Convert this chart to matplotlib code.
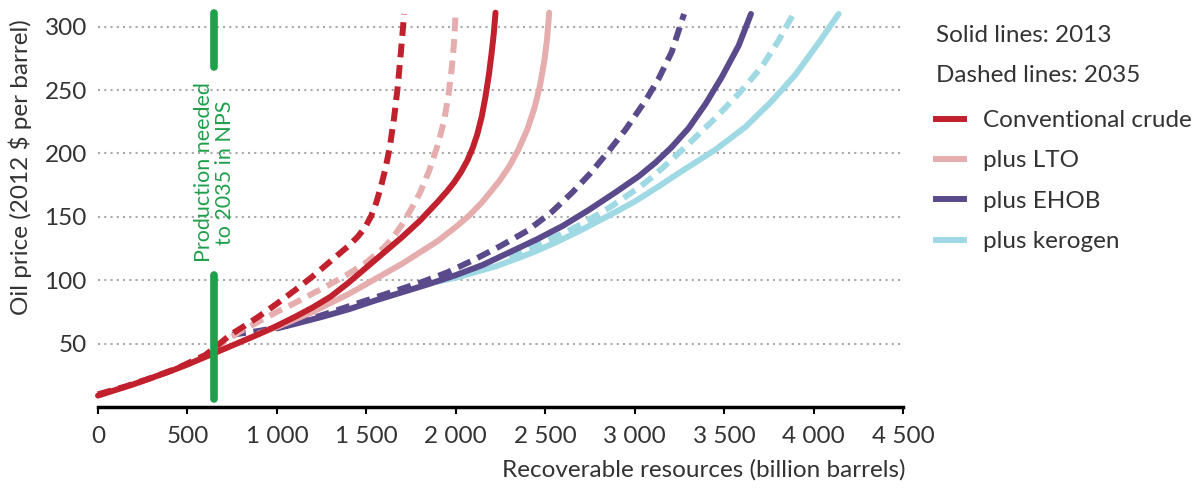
import matplotlib
matplotlib.use("Agg")
import matplotlib.pyplot as plt
from matplotlib.lines import Line2D

plt.rcParams['font.family'] = ['Lato', 'DejaVu Sans']

# Dostupne zdroje (mld. barelu) a cena ropy (2012 $ za barel)
conv_2013_x = [0, 100, 200, 300, 400, 500, 600, 700, 800, 900, 1000, 1100, 1200, 1300, 1400,
               1500, 1600, 1700, 1800, 1900, 1950, 1990, 2030, 2065, 2095, 2120, 2145, 2165,
               2185, 2200, 2212, 2222]
conv_2013_y = [9, 13.5, 18, 23, 28, 33.5, 39.5, 45.5, 51.5, 57.5, 64, 71, 78.5, 87, 98,
               110, 122, 134, 147, 162, 170, 177, 185.5, 194.5, 204.5, 215, 229, 244,
               262, 279, 294, 311]
conv_2035_x = [0, 150, 300, 450, 600, 680, 740, 820, 900, 1000, 1100, 1200, 1300, 1400, 1450,
               1490, 1525, 1555, 1580, 1605, 1630, 1655, 1675, 1692, 1703, 1711]
conv_2035_y = [10, 16, 23, 31, 41, 50, 57, 64, 71.5, 81.5, 92, 103, 115, 127, 134,
               141, 150, 161, 173, 187, 204, 228, 252, 278, 296, 310]

lto_2013_x = [900, 1000, 1100, 1200, 1300, 1400, 1500, 1600, 1700, 1800, 1900, 2000, 2075,
              2150, 2242, 2300, 2350, 2400, 2440, 2470, 2495, 2510, 2522]
lto_2013_y = [58, 63, 69, 75, 82, 89, 97, 105, 113, 122, 131, 142, 151,
              162, 178, 190, 203, 219, 236, 253, 273, 290, 311]
lto_2035_x = [650, 700, 800, 900, 1000, 1100, 1200, 1300, 1400, 1500, 1600, 1650, 1700,
              1750, 1800, 1850, 1900, 1935, 1960, 1978, 1990, 1998]
lto_2035_y = [46, 51, 60, 67.5, 75, 82, 89.5, 97, 105, 114, 126, 134, 144,
              156, 169, 186, 207, 226, 247, 268, 287, 308]

ehob_2013_x = [1000, 1100, 1250, 1400, 1550, 1700, 1850, 2000, 2150, 2300, 2450, 2600, 2750,
               2900, 3023, 3118, 3207, 3302, 3396, 3486, 3581, 3650]
ehob_2013_y = [62, 65.5, 71, 77, 84, 90.5, 97, 104, 112, 122, 132, 143, 156,
               170, 182, 193, 205, 220, 239, 260, 285, 310]
ehob_2035_x = [750, 900, 1050, 1200, 1350, 1500, 1650, 1800, 1950, 2100, 2250, 2400, 2538,
               2650, 2750, 2850, 2950, 3062, 3134, 3207, 3276]
ehob_2035_y = [57, 60, 64, 70, 77, 84, 91, 98, 106, 116, 127, 139, 154,
               169, 184, 201, 219, 242, 259, 280, 310]

ker_2013_x = [1900, 2000, 2100, 2225, 2350, 2450, 2577, 2700, 2856, 3000, 3134, 3263, 3452,
              3620, 3765, 3898, 4027, 4140]
ker_2013_y = [99, 102, 106, 111, 117.5, 123, 131, 139.5, 151, 162, 174, 186, 203,
              221, 241, 262, 287, 310]
ker_2035_x = [2300, 2450, 2600, 2700, 2856, 3023, 3095, 3207, 3320, 3452, 3581, 3709, 3804, 3887]
ker_2035_y = [118, 128, 137, 144, 157, 173, 181, 195, 210, 228, 247, 268, 289, 310]

series_names = ['Conventional crude', 'plus LTO', 'plus EHOB', 'plus kerogen']
x_ticks = [0, 500, 1000, 1500, 2000, 2500, 3000, 3500, 4000, 4500]
x_tick_labels = ['0', '500', '1 000', '1 500', '2 000', '2 500', '3 000', '3 500', '4 000', '4 500']
y_ticks = [50, 100, 150, 200, 250, 300]
nps_production = 650

RED = '#c1202d'
PINK = '#e5adad'
PURPLE = '#5b4a8b'
CYAN = '#9fd9e3'
GREEN = '#1fa04b'
TEXT = '#333333'
FS = 17.5

fig = plt.figure(figsize=(12.01, 4.88), dpi=100)
ax = fig.add_axes([0.0816, 0.166, 0.6703, 0.8184])

lw = 4.3
dash = (2.3, 1.3)
curves = [
    (ker_2013_x, ker_2013_y, CYAN, False),
    (ker_2035_x, ker_2035_y, CYAN, True),
    (ehob_2013_x, ehob_2013_y, PURPLE, False),
    (ehob_2035_x, ehob_2035_y, PURPLE, True),
    (lto_2013_x, lto_2013_y, PINK, False),
    (lto_2035_x, lto_2035_y, PINK, True),
    (conv_2013_x, conv_2013_y, RED, False),
    (conv_2035_x, conv_2035_y, RED, True),
]
for xs, ys, c, dashed in curves:
    line, = ax.plot(xs, ys, color=c, lw=lw, solid_capstyle='round',
                    solid_joinstyle='round', clip_on=False)
    if dashed:
        line.set_dashes(dash)
        line.set_dash_capstyle('butt')

# Zelena cara - produkce potrebna do 2035
ax.plot([nps_production, nps_production], [6, 104], color=GREEN, lw=5.5,
        solid_capstyle='round', zorder=5)
ax.plot([nps_production, nps_production], [268, 311], color=GREEN, lw=5.5,
        solid_capstyle='round', zorder=5, clip_on=False)
ax.text(nps_production, 185, "Production needed\nto 2035 in NPS", rotation=90,
        ha='center', va='center', color=GREEN, fontsize=15.5, linespacing=1.05)

ax.set_xlim(0, 4500)
ax.set_ylim(0, 315)
ax.set_xticks(x_ticks)
ax.set_xticklabels(x_tick_labels)
ax.set_yticks(y_ticks)
ax.tick_params(axis='x', direction='out', length=5, width=1.5, pad=9,
               labelsize=FS, labelcolor=TEXT)
ax.tick_params(axis='y', length=0, pad=8, labelsize=FS, labelcolor=TEXT)
for s in ['top', 'right', 'left']:
    ax.spines[s].set_visible(False)
ax.spines['bottom'].set_linewidth(2.5)
ax.yaxis.grid(True, color='#a8a8a8', linestyle=(0, (1, 2)), lw=1.5)
ax.set_axisbelow(True)

fig.text(20 / 1201, 1 - 167 / 488, "Oil price (2012 $ per barrel)", rotation=90,
         ha='center', va='center', fontsize=FS, color=TEXT)
fig.text(905 / 1201, 1 - 470 / 488, "Recoverable resources (billion barrels)",
         ha='right', va='center', fontsize=FS, color=TEXT)

fig.text(936 / 1201, 1 - 35 / 488, "Solid lines: 2013", ha='left', va='center',
         fontsize=FS, color=TEXT)
fig.text(936 / 1201, 1 - 75 / 488, "Dashed lines: 2035", ha='left', va='center',
         fontsize=FS, color=TEXT)

handles = [Line2D([], [], color=c, lw=lw) for c in [RED, PINK, PURPLE, CYAN]]
fig.legend(handles, series_names, loc='upper left',
           bbox_to_anchor=(936 / 1201, 1 - 110 / 488), frameon=False,
           fontsize=FS, handlelength=1.15, handletextpad=0.8, labelspacing=0.8,
           borderpad=0, borderaxespad=0, labelcolor=TEXT)

fig.savefig("out.png", dpi=100)
